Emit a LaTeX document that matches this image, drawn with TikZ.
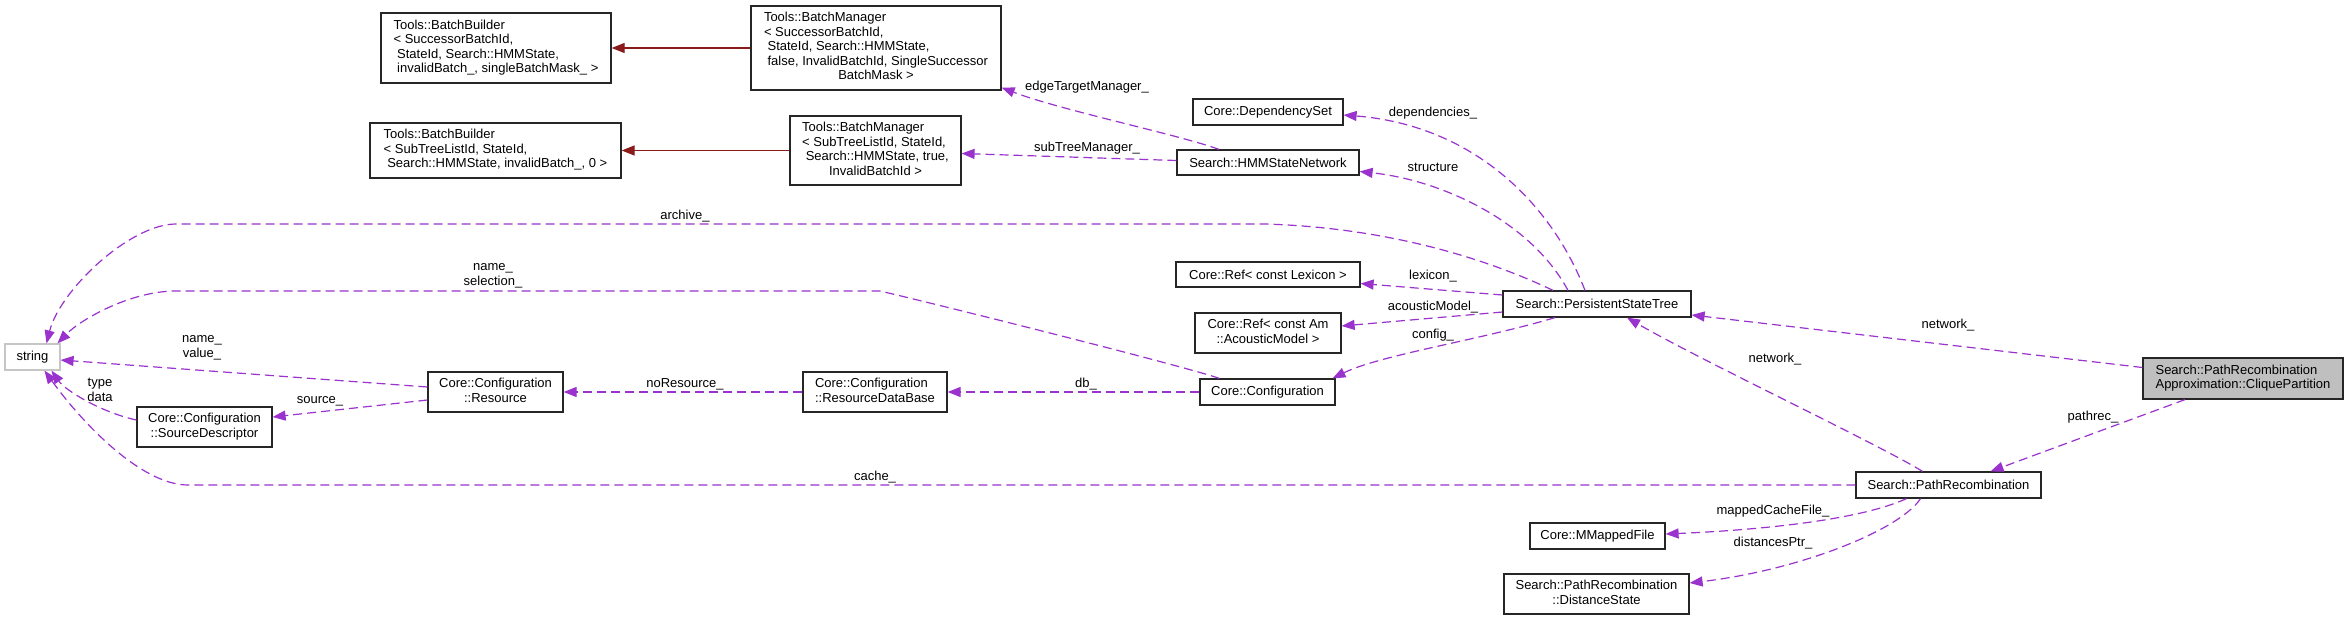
\documentclass[tikz,border=0pt]{standalone}
\usepackage{fontspec}
\setmainfont{Liberation Sans}
\usetikzlibrary{arrows.meta}
\definecolor{memberc}{HTML}{9A32CD}
\definecolor{inheritc}{HTML}{8B1A1A}
\newcommand{\cls}[1]{\begin{tabular}{@{}l@{}}#1\end{tabular}}
\newcommand{\lastc}[1]{\multicolumn{1}{@{}c@{}}{#1}}
\tikzset{
  every node/.style={font=\fontsize{13}{14.5}\selectfont},
  box/.style={draw=black!85,line width=1.2pt,inner sep=3pt},
  member/.style={draw=memberc,line width=1.2pt,dash pattern=on 9pt off 5pt,-{Triangle[length=13pt,width=10pt]}},
  inherit/.style={draw=inheritc,line width=1.2pt,-{Triangle[length=13pt,width=10pt]}},
  lbl/.style={inner sep=0pt,align=center}
}
\begin{document}
\begin{tikzpicture}[x=1pt,y=-1pt]
\useasboundingbox (0,0) rectangle (2348,621);
% classes
\node[box,minimum width=230pt,minimum height=70pt] (bbA) at (496,48) {\cls{Tools::BatchBuilder\\< SuccessorBatchId,\\\ StateId, Search::HMMState,\\\ invalidBatch\_, singleBatchMask\_ >}};
\node[box,minimum width=250pt,minimum height=84pt] (bmA) at (876,48) {\cls{Tools::BatchManager\\< SuccessorBatchId,\\\ StateId, Search::HMMState,\\\ false, InvalidBatchId, SingleSuccessor\\\lastc{BatchMask >}}};
\node[box,minimum width=251pt,minimum height=55pt] (bbB) at (495.5,150.5) {\cls{Tools::BatchBuilder\\< SubTreeListId, StateId,\\\ Search::HMMState, invalidBatch\_, 0 >}};
\node[box,minimum width=171pt,minimum height=69pt] (bmB) at (875.5,150.5) {\cls{Tools::BatchManager\\< SubTreeListId, StateId,\\\ Search::HMMState, true,\\\lastc{InvalidBatchId >}}};
\node[box,minimum width=150pt,minimum height=26pt] (depset) at (1268,112) {Core::DependencySet};
\node[box,minimum width=182pt,minimum height=25pt] (hmmnet) at (1268,162.5) {Search::HMMStateNetwork};
\node[box,minimum width=184pt,minimum height=25pt] (reflex) at (1268,274.5) {Core::Ref< const Lexicon >};
\node[box,minimum width=188pt,minimum height=26pt] (pst) at (1597,304) {Search::PersistentStateTree};
\node[box,minimum width=146pt,minimum height=40pt] (refam) at (1268,333) {\cls{Core::Ref< const Am\\\lastc{::AcousticModel >}}};
\node[box,minimum width=135pt,minimum height=26pt] (config) at (1267.5,392) {Core::Configuration};
\node[box,minimum width=135pt,minimum height=40pt] (resource) at (495.5,392) {\cls{Core::Configuration\\\lastc{::Resource}}};
\node[box,minimum width=144pt,minimum height=40pt] (resdb) at (875,392) {\cls{Core::Configuration\\::ResourceDataBase}};
\node[box,minimum width=135pt,minimum height=40pt] (srcdesc) at (204.5,427) {\cls{Core::Configuration\\\lastc{::SourceDescriptor}}};
\node[box,draw=gray!45,minimum width=55pt,minimum height=26pt] (str) at (32.5,357) {string};
\node[box,fill=gray!50,minimum width=200pt,minimum height=41pt] (clique) at (2243,378.5) {\cls{Search::PathRecombination\\Approximation::CliquePartition}};
\node[box,minimum width=185pt,minimum height=26pt] (pathrec) at (1948.5,485) {Search::PathRecombination};
\node[box,minimum width=135pt,minimum height=26pt] (mmap) at (1597.5,536) {Core::MMappedFile};
\node[box,minimum width=185pt,minimum height=40pt] (diststate) at (1596.5,594) {\cls{Search::PathRecombination\\\lastc{::DistanceState}}};
% inheritance
\draw[inherit] (bmA.west) -- (bbA.east);
\draw[inherit] (bmB.west) -- (bbB.east);
% members
\draw[member] ([xshift=-49pt]hmmnet.north) .. controls (1180,135) and (1060,110) .. ([yshift=3pt]bmA.south east);
\draw[member] ([yshift=2pt]hmmnet.west) -- ([yshift=-3pt]bmB.east);
\draw[member] ([xshift=-12pt]pst.north) .. controls (1550,200) and (1470,125) .. ([yshift=-3pt]depset.east);
\draw[member] ([xshift=-29pt]pst.north) .. controls (1530,220) and (1440,180) .. ([yshift=-9pt]hmmnet.east);
\draw[member] ([xshift=-44pt]pst.north) .. controls (1500,265) and (1400,228) .. (1265,224) -- (176,224) .. controls (130,224) and (60,290) .. ([xshift=14pt]str.north);
\draw[member] ([xshift=-48pt]config.north) .. controls (1180,365) and (940,305) .. (880,291) -- (176,291) .. controls (130,291) and (80,320) .. ([xshift=25pt]str.north);
\draw[member] ([yshift=9pt]pst.west) -- ([yshift=-9pt]reflex.east);
\draw[member] ([yshift=-8pt]pst.west) -- ([yshift=7pt]refam.east);
\draw[member] ([xshift=-42pt]pst.south) .. controls (1480,340) and (1380,355) .. ([xshift=65pt]config.north);
\draw[member] ([yshift=11pt]clique.west) -- ([yshift=-11pt]pst.east);
\draw[member] ([xshift=-26pt]pathrec.north) .. controls (1880,445) and (1700,360) .. ([xshift=30pt]pst.south);
\draw[member] ([xshift=-58pt]clique.south) -- ([xshift=42pt]pathrec.north);
\draw[member] (pathrec.west) -- (188,485) .. controls (140,485) and (80,420) .. ([xshift=12pt]str.south);
\draw[member] ([yshift=7pt]srcdesc.west) .. controls (100,412) and (65,390) .. ([xshift=19pt]str.south);
\draw[member] ([yshift=5pt]resource.west) -- ([yshift=-3pt]str.east);
\draw[member] ([yshift=-8pt]resource.west) -- ([yshift=10pt]srcdesc.east);
\draw[member] (resdb.west) -- (resource.east);
\draw[member] (config.west) -- (resdb.east);
\draw[member] ([xshift=-42pt]pathrec.south) .. controls (1860,520) and (1760,530) .. ([yshift=2pt]mmap.east);
\draw[member] ([xshift=-28pt]pathrec.south) .. controls (1900,530) and (1800,570) .. ([yshift=11pt]diststate.east);
% member labels
\node[lbl] (lEdge) at (1087,87) {edgeTargetManager\_};
\node[lbl] (lSub) at (1087,148) {subTreeManager\_};
\node[lbl] (lDep) at (1433,113) {dependencies\_};
\node[lbl] (lStruct) at (1433,167) {structure};
\node[lbl] (lArch) at (685,216) {archive\_};
\node[lbl] (lLex) at (1433,276) {lexicon\_};
\node[lbl] (lSel) at (493,276) {name\_\\selection\_};
\node[lbl] (lAm) at (1433,307) {acousticModel\_};
\node[lbl] (lConf) at (1433,335) {config\_};
\node[lbl] (lNetA) at (1948,325) {network\_};
\node[lbl] (lNetB) at (1775,359) {network\_};
\node[lbl] (lVal) at (202,348) {name\_\\value\_};
\node[lbl] (lType) at (100,390) {type\\data};
\node[lbl] (lSrc) at (320,401) {source\_};
\node[lbl] (lNoRes) at (685,384) {noResource\_};
\node[lbl] (lDb) at (1086,384) {db\_};
\node[lbl] (lPath) at (2093,417) {pathrec\_};
\node[lbl] (lCache) at (875,477) {cache\_};
\node[lbl] (lMap) at (1773,511) {mappedCacheFile\_};
\node[lbl] (lDist) at (1773,543) {distancesPtr\_};
\end{tikzpicture}
\end{document}
